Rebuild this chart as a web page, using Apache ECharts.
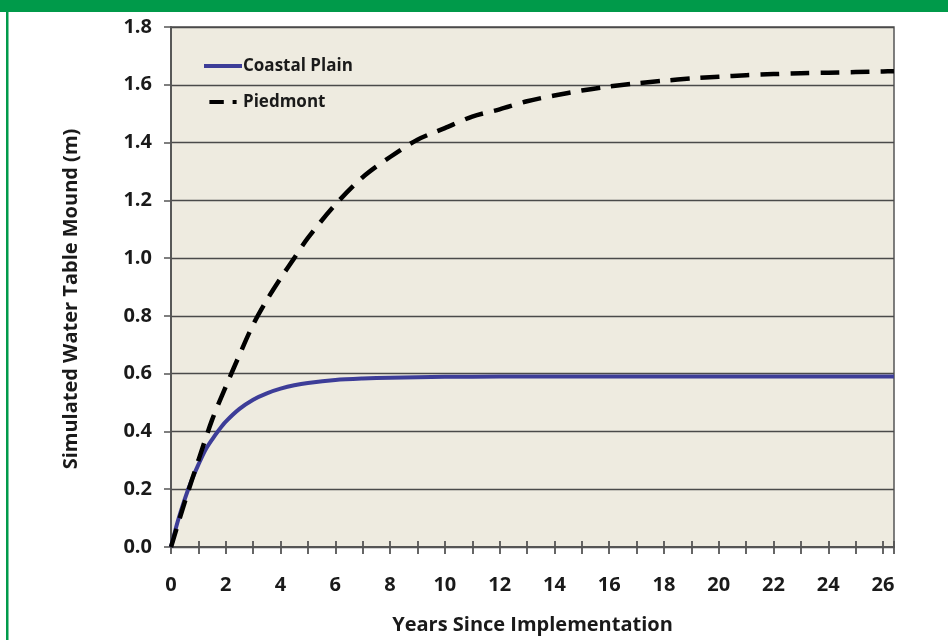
<!DOCTYPE html>
<html>
<head>
<meta charset="utf-8">
<script src="https://cdn.jsdelivr.net/npm/echarts@6/dist/echarts.min.js"></script>
<style>
html,body{margin:0;padding:0;background:#fff;}
#chart{width:948px;height:640px;}
</style>
</head>
<body>
<div id="chart"></div>
<script>
var coastalYears = [0, 0.25, 0.5, 0.75, 1, 1.25, 1.5, 1.75, 2, 2.5, 3, 3.5, 4, 4.5, 5, 6, 7, 8, 9, 10, 12, 14, 16, 18, 20, 22, 24, 26, 26.4];
var coastalValues = [0, 0.09, 0.165, 0.23, 0.285, 0.335, 0.372, 0.405, 0.434, 0.478, 0.51, 0.532, 0.548, 0.56, 0.568, 0.578, 0.583, 0.586, 0.588, 0.589, 0.59, 0.59, 0.59, 0.59, 0.59, 0.59, 0.59, 0.59, 0.59];

var piedmontYears = [0, 0.5, 1, 1.5, 2, 2.5, 3, 3.5, 4, 4.5, 5, 6, 7, 8, 9, 10, 11, 12, 13, 14, 15, 16, 17, 18, 19, 20, 21, 22, 23, 24, 25, 26, 26.4];
var piedmontValues = [0, 0.155, 0.3, 0.44, 0.555, 0.665, 0.77, 0.855, 0.93, 1.0, 1.07, 1.185, 1.28, 1.35, 1.41, 1.45, 1.49, 1.515, 1.543, 1.563, 1.58, 1.594, 1.605, 1.614, 1.622, 1.628, 1.633, 1.637, 1.64, 1.642, 1.644, 1.646, 1.647];

var xTicks = [0, 2, 4, 6, 8, 10, 12, 14, 16, 18, 20, 22, 24, 26];
var yTicks = [0.0, 0.2, 0.4, 0.6, 0.8, 1.0, 1.2, 1.4, 1.6, 1.8];

var seriesNames = ['Coastal Plain', 'Piedmont'];
var xTitle = 'Years Since Implementation';
var yTitle = 'Simulated Water Table Mound (m)';

function pairs(xs, ys) {
  return xs.map(function (x, i) { return [x, ys[i]]; });
}

var FONT = '"Open Sans", "DejaVu Sans", sans-serif';
var chart = echarts.init(document.getElementById('chart'), null, {renderer: 'canvas'});

var option = {
  backgroundColor: '#ffffff',
  animation: false,
  graphic: [
    {type: 'rect', shape: {x: 0, y: 0, width: 948, height: 12}, style: {fill: '#009a4a'}, z: 100},
    {type: 'rect', shape: {x: 6, y: 0, width: 2.5, height: 640}, style: {fill: '#009a4a'}, z: 100},
    {type: 'text', x: 71, y: 299, rotation: Math.PI / 2,
      style: {text: yTitle, font: 'bold 20px ' + FONT, fill: '#1a1a1a', textAlign: 'center', textVerticalAlign: 'middle'}}
  ],
  legend: {
    orient: 'vertical',
    left: 199,
    top: 50,
    itemWidth: 38,
    itemHeight: 4,
    itemGap: 14,
    data: [
      {name: seriesNames[0], icon: 'path://M0,0 L38,0 L38,4 L0,4 Z'},
      {name: seriesNames[1], icon: 'path://M0,0 L18,0 L18,5 L0,5 Z M29,0 L34,0 L34,5 L29,5 Z'}
    ],
    textStyle: {fontFamily: FONT, fontWeight: 'bold', fontSize: 17, lineHeight: 22, color: '#1a1a1a', padding: [0, 0, 0, -4]}
  },
  grid: {
    left: 171, top: 27, right: 54, bottom: 91,
    show: true,
    backgroundColor: '#eeebe0',
    borderColor: '#555555',
    borderWidth: 1.5
  },
  xAxis: [
    {
      type: 'value', min: 0, max: 26.4, interval: 1,
      name: xTitle, nameLocation: 'middle', nameGap: 68,
      nameTextStyle: {fontFamily: FONT, fontWeight: 'bold', fontSize: 20, color: '#1a1a1a'},
      axisLine: {show: true, lineStyle: {color: '#555555', width: 1.8}},
      axisTick: {show: true, length: 7, lineStyle: {color: '#555555', width: 1.8}},
      axisLabel: {
        margin: 28, fontFamily: FONT, fontWeight: 'bold', fontSize: 20, color: '#1a1a1a',
        formatter: function (v) { return xTicks.indexOf(v) >= 0 ? String(v) : ''; }
      },
      splitLine: {show: false}
    },
    {
      type: 'value', min: 0, max: 26.4, interval: 1, position: 'bottom',
      axisLine: {show: false},
      axisTick: {show: true, inside: true, length: 6, lineStyle: {color: '#555555', width: 1.8}},
      axisLabel: {show: false},
      splitLine: {show: false}
    }
  ],
  yAxis: {
    type: 'value', min: 0, max: 1.8, interval: 0.2,
    axisLine: {show: true, lineStyle: {color: '#555555', width: 1.8}},
    axisTick: {show: true, length: 7, lineStyle: {color: '#555555', width: 1.5}},
    axisLabel: {
      margin: 19, fontFamily: FONT, fontWeight: 'bold', fontSize: 20, color: '#1a1a1a',
      formatter: function (v) {
        for (var i = 0; i < yTicks.length; i++) { if (Math.abs(yTicks[i] - v) < 1e-6) return yTicks[i].toFixed(1); }
        return '';
      }
    },
    splitLine: {show: true, lineStyle: {color: '#4a4a4a', width: 1.4}}
  },
  series: [
    {
      name: seriesNames[0], type: 'line', xAxisIndex: 0, smooth: 0.3, symbol: 'none',
      data: pairs(coastalYears, coastalValues),
      lineStyle: {color: '#3d3d98', width: 4},
      itemStyle: {color: '#3d3d98'},
      z: 3
    },
    {
      name: seriesNames[1], type: 'line', xAxisIndex: 0, smooth: 0.3, symbol: 'none',
      data: pairs(piedmontYears, piedmontValues),
      lineStyle: {color: '#000000', width: 4.5, type: [19, 11]},
      itemStyle: {color: '#000000'},
      z: 4
    }
  ]
};
chart.setOption(option);
</script>
</body>
</html>
